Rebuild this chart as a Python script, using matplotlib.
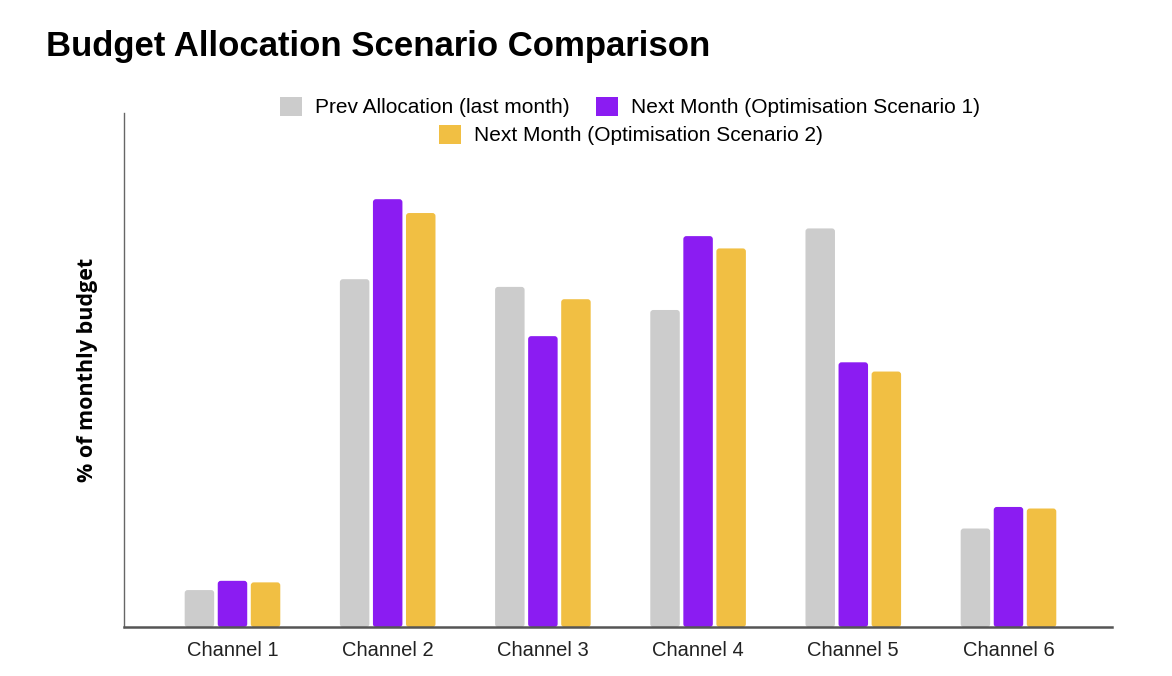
# grouped bar chart: budget allocation per channel, previous month vs two optimisation scenarios

import numpy as np
import matplotlib.pyplot as plt
from matplotlib.patches import Patch, FancyBboxPatch


channels = ["Channel 1", "Channel 2", "Channel 3", "Channel 4", "Channel 5", "Channel 6"]
prev_alloc = [2.4, 22.6, 22.1, 20.6, 25.9, 6.4]
scenario_1 = [3.0, 27.8, 18.9, 25.4, 17.2, 7.8]
scenario_2 = [2.9, 26.9, 21.3, 24.6, 16.6, 7.7]

series_names = ["Prev Allocation (last month)",
                "Next Month (Optimisation Scenario 1)",
                "Next Month (Optimisation Scenario 2)"]
colors = ["#cccccc", "#8b1cf2", "#f1bf43"]

fig = plt.figure(figsize=(11.72, 6.76), dpi=100)
ax = fig.add_axes([124 / 1172, 1 - 627 / 676, 988 / 1172, 514 / 676])

ax.set_xlim(-0.699, 5.667)
ax.set_ylim(0, 33.4)

x = np.arange(len(channels))
w = 0.19
off = 0.213

# rounded corners: radius ~3 px, aspect fixes x/y unit difference
px_x = 6.366 / 988
px_y = 33.4 / 514
for i, vals in enumerate([prev_alloc, scenario_1, scenario_2]):
    bars = ax.bar(x + (i - 1) * off, vals, width=w, color=colors[i], zorder=2)
    for b in bars:
        b.set_visible(False)
        rp = FancyBboxPatch((b.get_x(), b.get_y()), b.get_width(), b.get_height(),
                            boxstyle="round,pad=0,rounding_size=%f" % (3 * px_x),
                            mutation_aspect=px_y / px_x,
                            facecolor=colors[i], edgecolor="none", zorder=2)
        ax.add_patch(rp)

ax.set_xticks(x)
ax.set_xticklabels(channels, fontsize=14.5, family="Liberation Sans", color="#222222")
ax.set_yticks([])
ax.tick_params(axis="x", length=0, pad=10)

for s in ["top", "right"]:
    ax.spines[s].set_visible(False)
ax.spines["left"].set_color("#666666")
ax.spines["left"].set_linewidth(1.0)
ax.spines["bottom"].set_color("#555555")
ax.spines["bottom"].set_linewidth(1.8)
ax.spines["bottom"].set_zorder(3)

ax.set_ylabel("% of monthly budget", fontsize=15.5, fontweight="bold",
              family="Open Sans", labelpad=19)

fig.text(46 / 1172, 1 - 56 / 676, "Budget Allocation Scenario Comparison",
         fontsize=25, fontweight="bold", family="Liberation Sans", ha="left", va="baseline")

# legend: two items on first row, third centered below
handles = [Patch(facecolor=c, edgecolor="none") for c in colors]
fig.legend(handles[:2], series_names[:2], ncol=2, loc="center",
           bbox_to_anchor=(630 / 1172, 1 - 107 / 676), frameon=False,
           prop={"family": "Liberation Sans", "size": 15},
           handlelength=1.05, handleheight=1.05, handletextpad=0.6, columnspacing=1.3)
fig.legend(handles[2:], series_names[2:], loc="center",
           bbox_to_anchor=(631 / 1172, 1 - 135 / 676), frameon=False,
           prop={"family": "Liberation Sans", "size": 15},
           handlelength=1.05, handleheight=1.05, handletextpad=0.6)

fig.savefig("out.png", dpi=100)
